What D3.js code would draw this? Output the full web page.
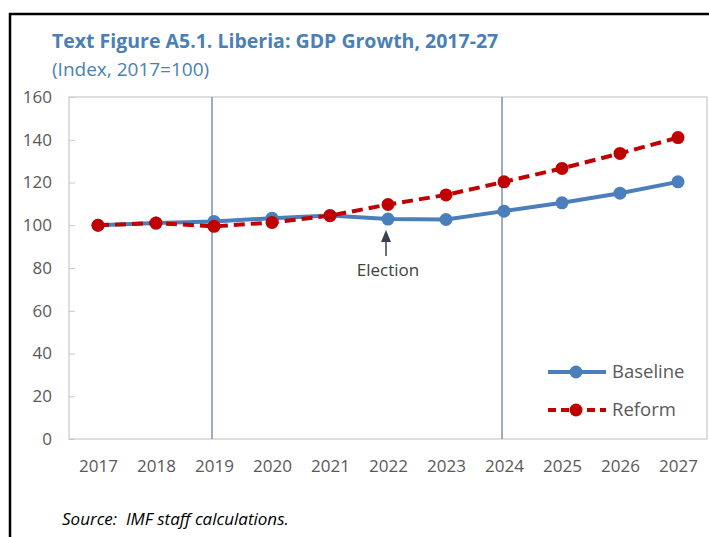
<!DOCTYPE html>
<html><head><meta charset="utf-8">
<script src="https://cdn.jsdelivr.net/npm/d3@7"></script>
<style>body{margin:0;background:#fff;} svg{display:block;}</style>
</head><body>
<svg id="c" width="709" height="537"></svg>
<script>
const years = ["2017","2018","2019","2020","2021","2022","2023","2024","2025","2026","2027"];
const baseline = [100, 101, 101.8, 103.3, 104.6, 102.9, 102.7, 106.6, 110.5, 115, 120.3];
const reform = [100, 101, 99.5, 101.3, 104.5, 109.7, 114.2, 120.3, 126.6, 133.6, 141];
const yTicks = [0, 20, 40, 60, 80, 100, 120, 140, 160];
const markerYears = ["2019", "2024"];
const annotation = {year: "2022", label: "Election"};
const seriesNames = ["Baseline", "Reform"];

const svg = d3.select("#c");
const L = 69, R = 707, T = 97, B = 439;
const font = "'Open Sans', 'Noto Sans', sans-serif";

// outer frame (black, left + top)
svg.append("path").attr("d", "M10,537 V14 H709").attr("fill", "none").attr("stroke", "#000").attr("stroke-width", 2.5);

svg.append("text").attr("x", 52).attr("y", 48).attr("font-family", font).attr("font-weight", "bold")
  .attr("font-size", 19.5).attr("fill", "#4a80b4").text("Text Figure A5.1. Liberia: GDP Growth, 2017-27");
svg.append("text").attr("x", 52).attr("y", 76).attr("font-family", font)
  .attr("font-size", 19).attr("fill", "#4a80b4").text("(Index, 2017=100)");

const x = d3.scalePoint().domain(years).range([L, R]).padding(0.5);
const y = d3.scaleLinear().domain([0, 160]).range([B, T]);

// plot frame
svg.append("rect").attr("x", L).attr("y", T).attr("width", R - L).attr("height", B - T)
  .attr("fill", "none").attr("stroke", "#c8c8c8").attr("stroke-width", 1.2);

// y axis (inner ticks)
const yAxis = svg.append("g").attr("transform", `translate(${L},0)`)
  .call(d3.axisRight(y).tickValues(yTicks).tickSize(6).tickFormat(d3.format("d")));
yAxis.select(".domain").remove();
yAxis.selectAll("line").attr("stroke", "#c8c8c8");
yAxis.selectAll("text").attr("x", -17).attr("text-anchor", "end").attr("font-family", font)
  .attr("font-size", 17).attr("fill", "#595959");

// x axis
const xAxis = svg.append("g").attr("transform", `translate(0,${B})`)
  .call(d3.axisBottom(x).tickSize(0));
xAxis.select(".domain").remove();
xAxis.selectAll("text").attr("dy", 0).attr("y", 33).attr("font-family", font)
  .attr("font-size", 17).attr("fill", "#595959");

// vertical marker lines
svg.selectAll(".vl").data(markerYears).enter().append("line")
  .attr("x1", d => x(d) - 2).attr("x2", d => x(d) - 2).attr("y1", T).attr("y2", B)
  .attr("stroke", "#7f90b4").attr("stroke-width", 1.5);

const line = d3.line().x((d, i) => x(years[i])).y(d => y(d));

svg.append("path").datum(baseline).attr("d", line).attr("fill", "none")
  .attr("stroke", "#4a7fbb").attr("stroke-width", 4);
svg.selectAll(".bm").data(baseline).enter().append("circle")
  .attr("cx", (d, i) => x(years[i])).attr("cy", d => y(d)).attr("r", 6.5).attr("fill", "#4a7fbb");

svg.append("path").datum(reform).attr("d", line).attr("fill", "none")
  .attr("stroke", "#c00000").attr("stroke-width", 4).attr("stroke-dasharray", "11,6");
svg.selectAll(".rm").data(reform).enter().append("circle")
  .attr("cx", (d, i) => x(years[i])).attr("cy", d => y(d)).attr("r", 6.5).attr("fill", "#c00000");

// annotation
const ax = x(annotation.year) - 2;
svg.append("line").attr("x1", ax).attr("x2", ax).attr("y1", 240).attr("y2", 256)
  .attr("stroke", "#3b4150").attr("stroke-width", 1.5);
svg.append("path").attr("d", `M${ax},230 L${ax - 5},242 L${ax + 5},242 Z`).attr("fill", "#3b4150");
svg.append("text").attr("x", ax + 2).attr("y", 276).attr("text-anchor", "middle").attr("font-family", font)
  .attr("font-size", 17).attr("fill", "#404040").text(annotation.label);

// legend
const leg = [{name: seriesNames[0], color: "#4a7fbb", dash: null, y: 372},
             {name: seriesNames[1], color: "#c00000", dash: "8,5", y: 410}];
leg.forEach(l => {
  svg.append("line").attr("x1", 548).attr("x2", 606).attr("y1", l.y).attr("y2", l.y)
    .attr("stroke", l.color).attr("stroke-width", 4).attr("stroke-dasharray", l.dash);
  svg.append("circle").attr("cx", 576).attr("cy", l.y).attr("r", 6.5).attr("fill", l.color);
  svg.append("text").attr("x", 612).attr("y", l.y + 6).attr("font-family", font)
    .attr("font-size", 18.5).attr("fill", "#595959").text(l.name);
});

svg.append("text").attr("x", 62).attr("y", 525).attr("font-family", font).attr("font-style", "italic")
  .attr("font-size", 17).attr("fill", "#000").style("white-space", "pre")
  .text("Source:  IMF staff calculations.");
</script>
</body></html>
